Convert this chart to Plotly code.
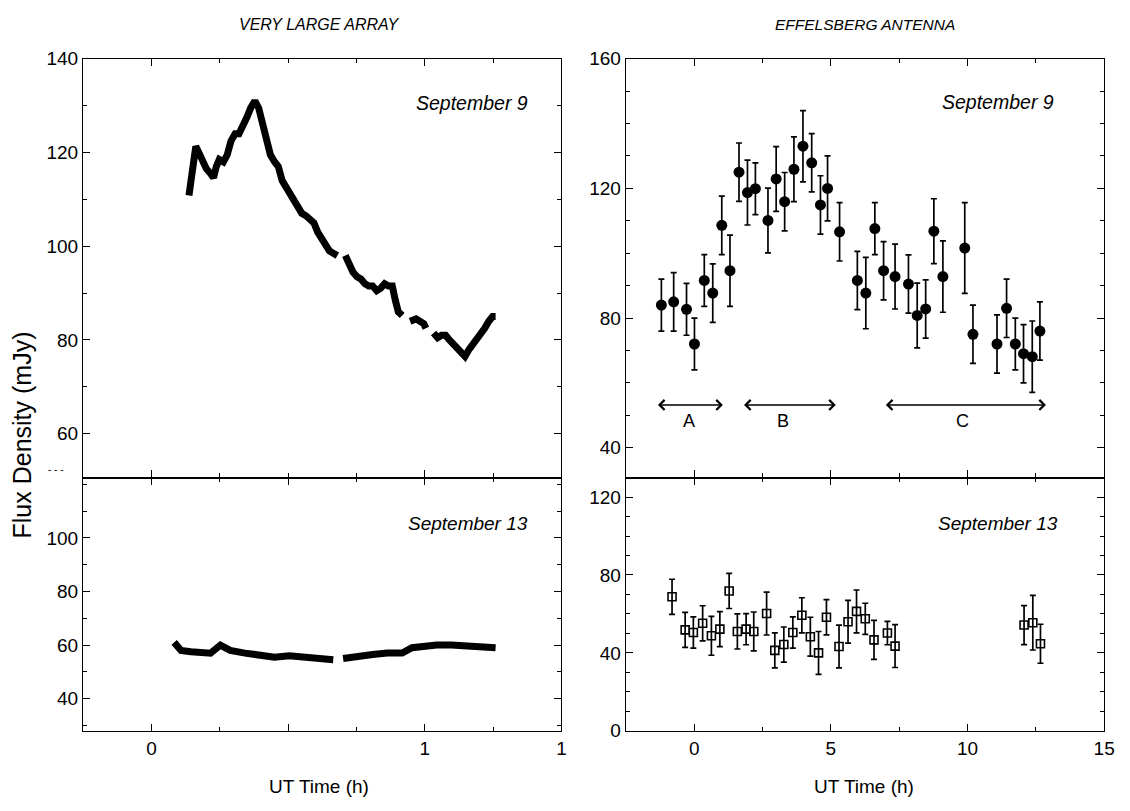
import plotly.graph_objects as go

W, H = 1130, 811
def PX(x): return x / W
def PY(y): return 1 - y / H

# ---------------- DATA ----------------
# VLA, September 9 (UT hours, mJy); None = gap in the record
vla9_time = [0.137, 0.144, 0.151, 0.162, 0.173, 0.187, 0.201, 0.216, 0.227, 0.237, 0.248, 0.263,
             0.277, 0.291, 0.306, 0.320, 0.335, 0.349, 0.363, 0.378, 0.392, 0.406, 0.421, 0.435,
             0.450, 0.464, 0.478, 0.493, 0.507, 0.522, 0.536, 0.550, 0.565, 0.579, 0.594,
             0.608, 0.622, 0.637, 0.651, 0.665, 0.680, 0.695, 0.709, 0.723, 0.737, 0.752, 0.766,
             0.781, 0.795, 0.809, 0.824, 0.838, 0.853, 0.867, 0.881, 0.892, 0.903, 0.917, 0.931,
             0.946, 0.968, 0.982, 0.996, 1.004, 1.018, 1.032, 1.047, 1.061, 1.076, 1.090, 1.104,
             1.119, 1.133, 1.147, 1.162, 1.176, 1.191, 1.205, 1.219, 1.234, 1.248, 1.259]
vla9_flux = [110.8, 114, 118, 121.3, 120, 118, 116.5, 115.5, 114.6, 117, 118.5, 118,
             119.5, 122.5, 124, 124, 125.5, 127.5, 129.5, 131, 129.5, 126, 123, 119.5,
             118, 117, 114, 112.5, 111, 110, 108.5, 107, 106.5, 105.5, 105,
             103, 101.5, 100.5, 99, 98.5, 98, None, 98, 96, 94.5, 93.5, 93,
             92, 91.5, 91.5, 90.5, 91, 92, 91.5, 91.5, 88.5, 86, 85.2, None,
             84, 84.5, 84, 83.5, 82.5, None, 81.5, 80.5, 81, 81, 80, 79,
             78, 77, 76.5, 78, 79, 80.5, 81.5, 82.5, 84, 85, 85]

# VLA, September 13
vla13_time = [0.083, 0.108, 0.144, 0.180, 0.216, 0.252, 0.288, 0.342, 0.396, 0.450, 0.504, 0.558,
              0.612, 0.665, 0.683, 0.701, 0.755, 0.809, 0.863, 0.917, 0.953, 0.989, 1.043, 1.097,
              1.151, 1.205, 1.259]
vla13_flux = [61, 58, 57.5, 57, 57, 60, 58, 57, 56, 55.5, 56, 55.5,
              55, 54.5, None, 55, 56, 56.5, 57, 57, 59, 59.5, 60, 60,
              59.5, 59, 59]

# Effelsberg, September 9
eff9_time = [-1.20, -0.75, -0.28, 0.01, 0.37, 0.68, 1.01, 1.31, 1.64, 1.95, 2.24, 2.70,
             3.00, 3.31, 3.65, 3.98, 4.30, 4.62, 4.88, 5.32, 5.97, 6.28, 6.61, 6.93,
             7.35, 7.84, 8.16, 8.47, 8.77, 9.10, 9.90, 10.20, 11.08, 11.43, 11.75, 12.05,
             12.37, 12.65]
eff9_flux = [84.0, 85.0, 82.7, 72.0, 91.6, 87.7, 108.6, 94.6, 125.0, 118.7, 119.9, 110.1,
             122.9, 115.9, 125.9, 133.0, 127.9, 114.9, 120.0, 106.6, 91.6, 87.7, 107.6, 94.6,
             92.8, 90.5, 80.8, 82.8, 106.8, 92.8, 101.6, 75.0, 72.0, 83.0, 72.0, 69.0,
             68.1, 76.0]
eff9_err = [8, 9, 8, 8, 8, 9, 9, 11, 9, 10, 8, 10,
            10, 9, 10, 11, 9, 9, 10, 9, 9, 11, 8, 9,
            10, 9, 10, 9, 10, 11, 14, 9, 9, 9, 8, 9,
            11, 9]

# Effelsberg, September 13
eff13_time = [-0.81, -0.33, -0.03, 0.31, 0.63, 0.94, 1.28, 1.58, 1.90, 2.18, 2.65, 2.95,
              3.28, 3.61, 3.94, 4.25, 4.55, 4.84, 5.30, 5.63, 5.94, 6.26, 6.58, 7.07,
              7.35, 12.07, 12.39, 12.67]
eff13_flux = [68.8, 51.8, 50.5, 55.2, 48.8, 52.2, 71.8, 51.0, 52.2, 51.0, 60.2, 41.3,
              44.3, 50.5, 59.3, 48.3, 40.0, 58.3, 43.3, 56.0, 61.3, 57.5, 46.7, 50.2,
              43.5, 54.3, 55.5, 44.7]
eff13_err = [9, 9, 8, 9, 10, 9, 9, 9, 8, 10, 11, 9,
             9, 8, 9, 10, 11, 9, 11, 11, 11, 8, 10, 6,
             11, 10, 14, 10]

# Time intervals A, B, C (Effelsberg Sep 9)
interval_names = ["A", "B", "C"]
interval_start = [-1.38, 1.77, 6.96]
interval_end = [1.05, 5.18, 12.87]
interval_mid = [-0.18, 3.25, 9.83]

vla_tickvals = [0, 0.5, 1, 1.5]
vla_ticktext = ["0", "", "1", "1"]

# ---------------- FIGURE ----------------
FONT = "Liberation Sans, Arial, Helvetica, sans-serif"
fig = go.Figure()

fig.add_trace(go.Scatter(x=vla9_time, y=vla9_flux, mode="lines", connectgaps=False,
                         line=dict(color="black", width=7), xaxis="x", yaxis="y",
                         showlegend=False, hoverinfo="skip"))
fig.add_trace(go.Scatter(x=vla13_time, y=vla13_flux, mode="lines", connectgaps=False,
                         line=dict(color="black", width=7), xaxis="x2", yaxis="y2",
                         showlegend=False, hoverinfo="skip"))
fig.add_trace(go.Scatter(x=eff9_time, y=eff9_flux, mode="markers",
                         marker=dict(symbol="circle", size=11, color="black"),
                         error_y=dict(type="data", array=eff9_err, color="black",
                                      thickness=1.7, width=3),
                         xaxis="x3", yaxis="y3", showlegend=False))
fig.add_trace(go.Scatter(x=eff13_time, y=eff13_flux, mode="markers",
                         marker=dict(symbol="square-open", size=8, color="black",
                                     line=dict(width=1.6, color="black")),
                         error_y=dict(type="data", array=eff13_err, color="black",
                                      thickness=1.7, width=3),
                         xaxis="x4", yaxis="y4", showlegend=False))

L = [PX(84), PX(567)]
R = [PX(632), PX(1115)]
TOP = [PY(480), PY(50)]
BOT = [PY(740), PY(480)]

tickfont = dict(family=FONT, size=19, color="black")
common = dict(showline=True, linecolor="black", linewidth=1.4, mirror="ticks",
              ticks="inside", ticklen=7, tickwidth=1.3, tickcolor="black",
              showgrid=False, zeroline=False, tickfont=tickfont)

def minor(d):
    return dict(dtick=d, tick0=0, ticks="inside", ticklen=4, tickcolor="black",
                tickwidth=1, showgrid=False)

fig.update_layout(
    width=W, height=H, margin=dict(l=0, r=0, t=0, b=0),
    paper_bgcolor="white", plot_bgcolor="white",
    xaxis=dict(domain=L, range=[-0.25, 1.5], anchor="y", tickmode="array",
               tickvals=vla_tickvals, ticktext=vla_ticktext, showticklabels=False,
               minor=minor(0.25), **common),
    yaxis=dict(domain=TOP, range=[50.65, 140], anchor="x", tickmode="array",
               tickvals=[60, 80, 100, 120, 140], minor=minor(10), **common),
    xaxis2=dict(domain=L, range=[-0.25, 1.5], anchor="y2", tickmode="array",
                tickvals=vla_tickvals, ticktext=vla_ticktext,
                minor=minor(0.25), **common),
    yaxis2=dict(domain=BOT, range=[28, 122.5], anchor="x2", tickmode="array",
                tickvals=[40, 60, 80, 100], minor=minor(10), **common),
    xaxis3=dict(domain=R, range=[-2.5, 15], anchor="y3", dtick=5, tick0=0,
                showticklabels=False, minor=minor(2.5), **common),
    yaxis3=dict(domain=TOP, range=[30.8, 160], anchor="x3", tickmode="array",
                tickvals=[40, 80, 120, 160], minor=minor(10), **common),
    xaxis4=dict(domain=R, range=[-2.5, 15], anchor="y4", dtick=5, tick0=0,
                minor=minor(2.5), **common),
    yaxis4=dict(domain=BOT, range=[0, 130], anchor="x4", tickmode="array",
                tickvals=[0, 40, 80, 120], minor=minor(10), **common),
)

ann = []
def text(x, y, s, size=19, italic=False, xanchor="center", angle=0):
    t = f"<i>{s}</i>" if italic else s
    ann.append(dict(x=x, y=y, xref="paper", yref="paper", text=t, showarrow=False,
                    xanchor=xanchor, yanchor="middle", textangle=angle,
                    font=dict(family=FONT, size=size, color="black")))

text(PX(322), PY(15), "VERY LARGE ARRAY", size=16, italic=True)
text(PX(873), PY(15), "EFFELSBERG ANTENNA", size=15.5, italic=True)
text(PX(535), PY(95), "September 9", size=19.5, italic=True, xanchor="right")
text(PX(1066), PY(94), "September 9", size=19.5, italic=True, xanchor="right")
text(PX(535), PY(527), "September 13", size=19, italic=True, xanchor="right")
text(PX(1070), PY(527), "September 13", size=19, italic=True, xanchor="right")
text(PX(322), PY(797), "UT Time (h)", size=19)
text(PX(872), PY(797), "UT Time (h)", size=19)
text(PX(22), PY(436), "Flux Density (mJy)", size=25, angle=-90)
text(PX(57), PY(472), "- - -", size=10)

for name, a, b, m in zip(interval_names, interval_start, interval_end, interval_mid):
    ann.append(dict(x=b, y=53.2, ax=a, ay=53.2, xref="x3", yref="y3", axref="x3", ayref="y3",
                    text="", showarrow=True, arrowhead=4, startarrowhead=4,
                    arrowside="end+start", arrowsize=1.3, arrowwidth=1.5, arrowcolor="black",
                    standoff=0, startstandoff=0))
    ann.append(dict(x=m, y=48.3, xref="x3", yref="y3", text=name, showarrow=False,
                    font=dict(family=FONT, size=18, color="black")))

fig.update_layout(annotations=ann)
fig.write_html("out.html")
